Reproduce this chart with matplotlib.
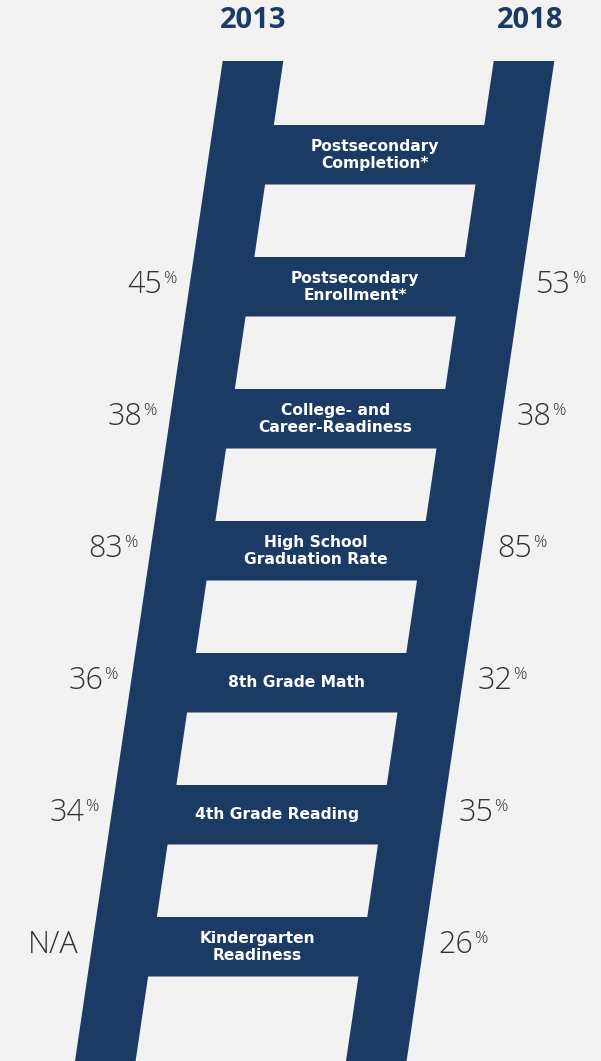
import matplotlib
matplotlib.use("Agg")
import matplotlib.pyplot as plt
from matplotlib.patches import Polygon

# data, bottom rung last
categories = [
    "Postsecondary\nCompletion*",
    "Postsecondary\nEnrollment*",
    "College- and\nCareer-Readiness",
    "High School\nGraduation Rate",
    "8th Grade Math",
    "4th Grade Reading",
    "Kindergarten\nReadiness",
]
values_2013 = [None, 45, 38, 83, 36, 34, "N/A"]
values_2018 = [None, 53, 38, 85, 32, 35, 26]
years = ["2013", "2018"]

navy = "#1b3b65"
bg = "#f2f2f2"
grey = "#333333"
num_font = dict(family="Open Sans", fontweight="light", color=grey)

W, H = 601, 1061
fig = plt.figure(figsize=(W / 100, H / 100), dpi=100, facecolor=bg)
ax = fig.add_axes([0, 0, 1, 1])
ax.set_xlim(0, W)
ax.set_ylim(H, 0)
ax.axis("off")

# ladder geometry (pixels)
slope = -0.1477
rail_w = 60.6
top = 61
left_x0 = 222.7
right_x0 = 554.3 - rail_w
rung_top0 = 125
rung_step = 132
rung_h = 59.5


def rail_x(x0, y):
    return x0 + slope * (y - top)


for x0 in (left_x0, right_x0):
    pts = [(rail_x(x0, top), top), (rail_x(x0, top) + rail_w, top),
           (rail_x(x0, H) + rail_w, H), (rail_x(x0, H), H)]
    ax.add_patch(Polygon(pts, closed=True, fc=navy, ec="none"))

for i, name in enumerate(categories):
    y1 = rung_top0 + rung_step * i
    y2 = y1 + rung_h
    pts = [(rail_x(left_x0, y1) + rail_w / 2, y1), (rail_x(right_x0, y1) + rail_w / 2, y1),
           (rail_x(right_x0, y2) + rail_w / 2, y2), (rail_x(left_x0, y2) + rail_w / 2, y2)]
    ax.add_patch(Polygon(pts, closed=True, fc=navy, ec="none"))
    yc = (y1 + y2) / 2
    xc = (rail_x(left_x0, yc) + rail_w + rail_x(right_x0, yc)) / 2
    ax.text(xc, yc, name, color="white", fontsize=11.2, fontweight="bold",
            family="DejaVu Sans", ha="center", va="center", linespacing=1.15)

    yb = yc + 6  # baseline of the big digits
    v13 = values_2013[i]
    if v13 == "N/A":
        ax.text(rail_x(left_x0, yb) - 12, yb, "N/A", fontsize=22,
                ha="right", va="baseline", **num_font)
    elif v13 is not None:
        pct = ax.text(rail_x(left_x0, yb) - 12, yb - 10, "%", fontsize=12,
                      ha="right", va="baseline", **num_font)
        ax.annotate(str(v13), xy=(0, yb), xycoords=(pct, "data"), xytext=(-0.5, 0),
                    textcoords="offset points", fontsize=22,
                    ha="right", va="baseline", **num_font)
    v18 = values_2018[i]
    if v18 is not None:
        num = ax.text(rail_x(right_x0, yb) + rail_w + 16, yb, str(v18),
                      fontsize=22, ha="left", va="baseline", **num_font)
        ax.annotate("%", xy=(1, yb - 10), xycoords=(num, "data"), xytext=(0.5, 0),
                    textcoords="offset points", fontsize=12,
                    ha="left", va="baseline", **num_font)

for label, xc in zip(years, (253, 530)):
    ax.text(xc, 21, label, color=navy, fontsize=21, fontweight="bold",
            family="Open Sans", ha="center", va="center")

fig.savefig("out.png", dpi=100, facecolor=bg)
